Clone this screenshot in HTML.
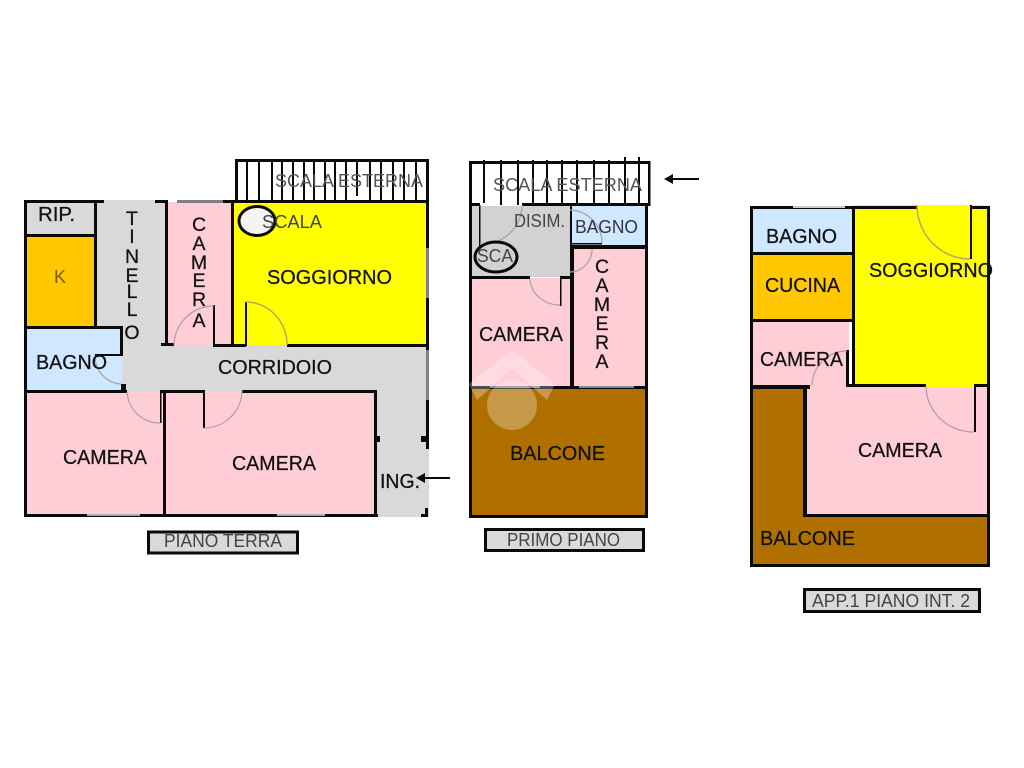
<!DOCTYPE html>
<html><head><meta charset="utf-8"><style>
html,body{margin:0;padding:0;background:#fff}svg{display:block}
text{font-family:"Liberation Sans",sans-serif;font-size:20px;fill:#111;stroke:#111;stroke-width:.25}
.t{fill:#555;font-size:18px;stroke:none}.v{text-anchor:middle;font-size:19.5px}
.a{fill:none;stroke:#a8a0a0;stroke-width:1.2}.y{fill:none;stroke:#b5a860;stroke-width:1.5}
</style></head><body>
<svg width="1024" height="768" viewBox="0 0 1024 768" xmlns="http://www.w3.org/2000/svg">
<!-- PLAN 1 fills -->
<rect x="97" y="200" width="70" height="150" fill="#d9d9d9"/>
<rect x="122" y="345" width="307" height="46" fill="#d9d9d9"/>
<rect x="377" y="390" width="52" height="127" fill="#d9d9d9"/>
<rect x="26" y="202" width="69" height="33" fill="#d9d9d9"/>
<rect x="26" y="236" width="69" height="91" fill="#ffc800"/>
<rect x="26" y="327" width="96" height="63" fill="#cfe7ff"/>
<rect x="26" y="391" width="138" height="124" fill="#ffcdd6"/>
<rect x="165" y="391" width="210" height="124" fill="#ffcdd6"/>
<rect x="167" y="202" width="65" height="143" fill="#ffcdd6"/>
<rect x="234" y="202" width="193" height="143" fill="#ffff00"/>
<path d="M127 391H160V423A35 35 0 0 1 127 391Z" fill="#ffcdd6"/>
<path d="M204 391H242A38 38 0 0 1 204 428Z" fill="#ffcdd6"/>
<!-- PLAN 1 walls -->
<g fill="#0a0a0a">
<rect x="24" y="200" width="3" height="317"/>
<rect x="24" y="200" width="80" height="3"/>
<rect x="155" y="200" width="12" height="3"/>
<rect x="177" y="200" width="46" height="3" fill="#808080"/>
<rect x="223" y="200" width="206" height="3"/>
<rect x="94" y="200" width="3" height="128"/>
<rect x="24" y="234" width="72" height="3"/>
<rect x="24" y="326" width="98" height="3"/>
<rect x="120" y="326" width="3" height="30"/>
<rect x="95" y="354" width="26" height="2"/>
<rect x="121" y="384" width="5" height="8"/>
<rect x="24" y="390" width="103" height="3"/>
<rect x="160" y="390" width="44" height="3"/>
<rect x="242" y="390" width="135" height="3"/>
<rect x="160" y="390" width="1.5" height="33"/>
<rect x="163" y="390" width="3" height="127"/>
<rect x="203" y="390" width="2" height="38"/>
<rect x="374" y="390" width="3" height="127"/>
<rect x="24" y="514" width="354" height="3"/>
<rect x="87" y="514" width="53" height="2" fill="#aaa"/>
<rect x="277" y="514" width="48" height="2" fill="#aaa"/>
<rect x="165" y="200" width="3" height="146"/>
<rect x="161" y="343" width="13" height="3"/>
<rect x="213" y="305" width="2" height="41"/>
<rect x="213" y="344" width="33" height="3"/>
<rect x="231" y="200" width="3" height="146"/>
<rect x="245" y="302" width="2" height="44"/>
<rect x="287" y="344" width="142" height="3"/>
<rect x="426" y="200" width="3" height="249"/>
<rect x="426" y="248" width="3" height="50" fill="#808080"/>
<rect x="426" y="350" width="3" height="50" fill="#808080"/>
<rect x="374" y="436" width="6" height="6"/>
<rect x="421" y="436" width="7" height="6"/>
<rect x="425" y="508" width="3" height="9"/>
<rect x="421" y="514" width="7" height="3"/>
<!-- stairs 1 -->
<rect x="235" y="159" width="194" height="3"/>
<rect x="235" y="159" width="3" height="44"/>
<rect x="426" y="159" width="3" height="44"/>
<rect x="246" y="160" width="2" height="42"/><rect x="258" y="160" width="2" height="42"/>
<rect x="271" y="160" width="2" height="42"/><rect x="281" y="160" width="2" height="42"/>
<rect x="292" y="160" width="2" height="42"/><rect x="303" y="160" width="2" height="42"/>
<rect x="313" y="160" width="2" height="42"/><rect x="324" y="160" width="2" height="42"/>
<rect x="334" y="160" width="2" height="42"/><rect x="345" y="160" width="2" height="42"/>
<rect x="356" y="160" width="2" height="36"/><rect x="369" y="160" width="2" height="42"/>
<rect x="380" y="160" width="2" height="42"/><rect x="392" y="160" width="2" height="42"/>
<rect x="403" y="160" width="2" height="42"/><rect x="415" y="160" width="2" height="42"/>
</g>
<path class="a" d="M214 306A40 40 0 0 0 174 345"/>
<path class="y" d="M246 302A41 43 0 0 1 287 345"/>
<path class="a" d="M95 356A28 28 0 0 0 121 384"/>
<path class="a" d="M127 392A33 33 0 0 0 160 423"/>
<path class="a" d="M204 428A38 38 0 0 0 242 390"/>
<ellipse cx="257" cy="221" rx="18" ry="14.500" fill="#f4f4f4" stroke="#0a0a0a" stroke-width="3"/>
<!-- PLAN 2 fills -->
<rect x="471" y="204" width="100" height="73" fill="#d2d2d2"/>
<rect x="480" y="203" width="42" height="3" fill="#fff"/>
<rect x="572" y="206" width="74" height="39" fill="#cfe7ff"/>
<rect x="471" y="278" width="99" height="108" fill="#ffcdd6"/>
<rect x="574" y="249" width="72" height="137" fill="#ffcdd6"/>
<rect x="471" y="389" width="175" height="126" fill="#b07000"/>
<path d="M530 278H560V305A30 28 0 0 1 530 278Z" fill="#ffcdd6"/>
<g fill="#0a0a0a">
<rect x="469" y="161" width="181" height="3"/>
<rect x="469" y="161" width="3" height="356"/>
<rect x="648" y="161" width="2.500" height="45"/>
<rect x="469" y="203" width="11" height="3"/>
<rect x="522" y="203" width="128" height="3"/>
<rect x="645" y="203" width="3" height="314"/>
<rect x="469" y="515" width="179" height="3"/>
<rect x="479" y="205" width="1.500" height="41"/>
<rect x="570" y="206" width="2" height="40"/>
<rect x="571" y="245" width="76" height="4"/>
<rect x="572" y="243" width="30" height="1.500"/>
<rect x="570" y="245" width="4" height="143"/>
<rect x="469" y="276" width="61" height="3"/>
<rect x="561" y="276" width="11" height="3"/>
<rect x="560" y="276" width="1.500" height="30"/>
<rect x="469" y="386" width="179" height="3"/>
<rect x="490" y="386" width="50" height="2" fill="#888"/>
<rect x="579" y="386" width="55" height="2" fill="#888"/>
<rect x="483" y="160" width="2" height="43"/><rect x="500" y="160" width="2" height="45"/>
<rect x="517" y="160" width="2" height="45"/><rect x="532" y="160" width="2" height="46"/>
<rect x="546" y="160" width="2" height="46"/><rect x="561" y="160" width="2" height="46"/>
<rect x="576" y="160" width="2" height="46"/><rect x="593" y="160" width="2" height="46"/>
<rect x="608" y="160" width="2" height="46"/><rect x="624" y="157" width="2" height="49"/>
<rect x="638" y="157" width="2" height="49"/>
</g>
<path class="a" d="M480 245A42 40 0 0 0 522 205"/>
<path class="a" d="M570 210A33 33 0 0 1 602 243"/>
<path class="a" d="M570 272A22 23 0 0 0 592 249"/>
<path class="a" d="M530 279A30 27 0 0 0 560 305"/>
<ellipse cx="496" cy="257" rx="21" ry="15" fill="#d2d2d2" stroke="#0a0a0a" stroke-width="3"/>
<!-- PLAN 3 fills -->
<rect x="753" y="208" width="99" height="45" fill="#cfe7ff"/>
<rect x="753" y="254" width="99" height="66" fill="#ffc800"/>
<rect x="753" y="321" width="96" height="65" fill="#ffcdd6"/>
<rect x="853" y="205" width="136" height="180" fill="#ffff00"/>
<rect x="753" y="388" width="235" height="176" fill="#b07000"/>
<rect x="806" y="384" width="182" height="131" fill="#ffcdd6"/>
<rect x="926" y="384" width="48" height="3" fill="#ffff00"/>
<rect x="812" y="352" width="35" height="34" fill="#ffcdd6"/>
<g fill="#0a0a0a">
<rect x="750" y="206" width="3" height="360"/>
<rect x="750" y="206" width="167" height="3"/>
<rect x="970" y="206" width="20" height="3"/>
<rect x="793" y="206" width="52" height="2" fill="#ccc"/>
<rect x="987" y="206" width="3" height="360"/>
<rect x="750" y="252" width="103" height="3"/>
<rect x="750" y="319" width="103" height="3"/>
<rect x="852" y="206" width="3" height="180"/>
<rect x="846" y="350" width="3" height="36"/>
<rect x="846" y="384" width="80" height="3"/>
<rect x="974" y="384" width="16" height="3"/>
<rect x="970" y="205" width="2" height="54"/>
<rect x="974" y="384" width="2" height="48"/>
<rect x="750" y="385" width="60" height="4"/>
<rect x="803" y="386" width="4" height="131"/>
<rect x="803" y="514" width="187" height="3"/>
<rect x="750" y="564" width="240" height="3"/>
</g>
<path class="y" d="M917 205A53 54 0 0 0 970 259"/>
<path class="a" d="M847 351A35 35 0 0 0 812 385"/>
<path class="a" d="M926 386A48 46 0 0 0 974 432"/>
<!-- Label boxes -->
<rect x="148.500" y="532" width="149" height="21" fill="#d9d9d9" stroke="#0a0a0a" stroke-width="3"/>
<rect x="485.500" y="529.500" width="158" height="21" fill="#d9d9d9" stroke="#0a0a0a" stroke-width="3"/>
<rect x="804.500" y="589.500" width="175" height="22" fill="#d9d9d9" stroke="#0a0a0a" stroke-width="3"/>
<!-- Watermark -->
<g fill="#fff" opacity=".28">
<path d="M512 350L555 384L547 400L512 369L477 400L469 384Z"/>
<circle cx="512" cy="405" r="25"/>
</g>
<!-- Arrows -->
<g fill="#0a0a0a">
<rect x="424" y="477" width="26" height="2"/><path d="M416 478L425 473V483Z"/>
<rect x="672" y="178" width="27" height="2"/><path d="M664 179L673 174V184Z"/>
</g>
<!-- Plan 1 labels -->
<text x="38" y="221" textLength="37" lengthAdjust="spacingAndGlyphs">RIP.</text>
<text x="54" y="283" textLength="12" lengthAdjust="spacingAndGlyphs" style="fill:#7a5a00;font-size:18px;stroke:none">K</text>
<text class="v" x="132" y="225">T</text><text class="v" x="132" y="243">I</text><text class="v" x="132" y="263">N</text><text class="v" x="132" y="282">E</text><text class="v" x="132" y="298">L</text><text class="v" x="132" y="316">L</text><text class="v" x="132" y="339">O</text>
<text class="v" x="199" y="231">C</text><text class="v" x="199" y="250">A</text><text class="v" x="199" y="269">M</text><text class="v" x="199" y="287">E</text><text class="v" x="199" y="306">R</text><text class="v" x="199" y="327">A</text>
<text class="v" x="602" y="273">C</text><text class="v" x="602" y="292">A</text><text class="v" x="602" y="311">M</text><text class="v" x="602" y="330">E</text><text class="v" x="602" y="349">R</text><text class="v" x="602" y="368">A</text>
<text x="267" y="284" textLength="125" lengthAdjust="spacingAndGlyphs">SOGGIORNO</text>
<text class="t" x="262" y="228" textLength="60" lengthAdjust="spacingAndGlyphs" style="fill:#444">SCALA</text>
<text class="t" x="275" y="187" textLength="148" lengthAdjust="spacingAndGlyphs">SCALA ESTERNA</text>
<text x="218" y="374" textLength="114" lengthAdjust="spacingAndGlyphs">CORRIDOIO</text>
<text x="36" y="369" textLength="71" lengthAdjust="spacingAndGlyphs">BAGNO</text>
<text x="63" y="464" textLength="84" lengthAdjust="spacingAndGlyphs">CAMERA</text>
<text x="232" y="470" textLength="84" lengthAdjust="spacingAndGlyphs">CAMERA</text>
<text x="380" y="488" textLength="40" lengthAdjust="spacingAndGlyphs">ING.</text>
<text class="t" x="164" y="547" textLength="118" lengthAdjust="spacingAndGlyphs" style="fill:#444">PIANO TERRA</text>
<!-- Plan 2 labels -->
<text class="t" x="493" y="191" textLength="149" lengthAdjust="spacingAndGlyphs">SCALA ESTERNA</text>
<text class="t" x="514" y="227" textLength="51" lengthAdjust="spacingAndGlyphs" style="fill:#444">DISIM.</text>
<text class="t" x="575" y="233" textLength="63" lengthAdjust="spacingAndGlyphs" style="fill:#334">BAGNO</text>
<text class="t" x="477" y="262" textLength="36" lengthAdjust="spacingAndGlyphs" style="fill:#444">SCA</text>
<text x="479" y="341" textLength="84" lengthAdjust="spacingAndGlyphs">CAMERA</text>
<text x="510" y="460" textLength="95" lengthAdjust="spacingAndGlyphs">BALCONE</text>
<text class="t" x="507" y="546" textLength="113" lengthAdjust="spacingAndGlyphs" style="fill:#444">PRIMO PIANO</text>
<!-- Plan 3 labels -->
<text x="766" y="243" textLength="71" lengthAdjust="spacingAndGlyphs">BAGNO</text>
<text x="765" y="292" textLength="75" lengthAdjust="spacingAndGlyphs">CUCINA</text>
<text x="869" y="277" textLength="124" lengthAdjust="spacingAndGlyphs">SOGGIORNO</text>
<text x="760" y="366" textLength="83" lengthAdjust="spacingAndGlyphs">CAMERA</text>
<text x="858" y="457" textLength="84" lengthAdjust="spacingAndGlyphs">CAMERA</text>
<text x="760" y="545" textLength="95" lengthAdjust="spacingAndGlyphs">BALCONE</text>
<text class="t" x="812" y="607" textLength="158" lengthAdjust="spacingAndGlyphs" style="fill:#444">APP.1 PIANO INT. 2</text>
</svg>
</body></html>
